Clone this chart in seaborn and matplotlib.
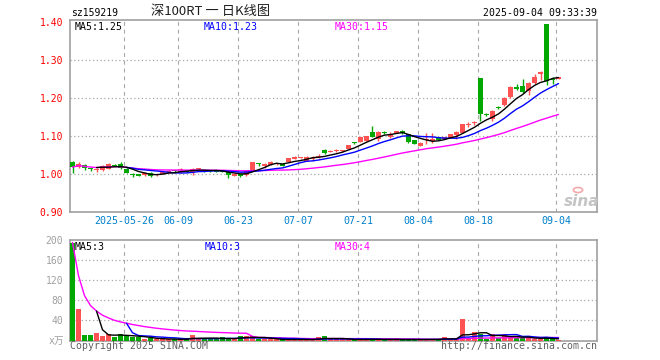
import numpy as np
import pandas as pd
import matplotlib
matplotlib.use("Agg")
import matplotlib.pyplot as plt
import seaborn as sns

# daily candles, 2025-05-13 .. 2025-09-04
opens = [1.032, 1.018, 1.024, 1.014, 1.010, 1.010, 1.013, 1.023, 1.026, 1.014,
         0.999, 1.000, 0.998, 1.003, 0.997, 1.000, 1.005, 1.009, 1.010, 1.008,
         1.005, 1.013, 1.008, 1.008, 1.007, 1.007, 1.004, 0.996, 0.999, 0.997,
         1.010, 1.026, 1.022, 1.024, 1.026, 1.026, 1.032, 1.040, 1.041, 1.034,
         1.040, 1.045, 1.063, 1.058, 1.060, 1.061, 1.066, 1.083, 1.084, 1.087,
         1.110, 1.092, 1.110, 1.097, 1.108, 1.111, 1.105, 1.089, 1.074, 1.090,
         1.088, 1.096, 1.092, 1.095, 1.103, 1.108, 1.128, 1.135, 1.253, 1.157,
         1.145, 1.176, 1.182, 1.203, 1.228, 1.232, 1.218, 1.240, 1.262, 1.395,
         1.248, 1.251]
highs = [1.034, 1.032, 1.027, 1.017, 1.015, 1.024, 1.030, 1.026, 1.031, 1.016,
         1.002, 1.001, 1.005, 1.005, 1.000, 1.006, 1.011, 1.010, 1.016, 1.010,
         1.016, 1.015, 1.010, 1.010, 1.009, 1.010, 1.006, 0.999, 1.001, 1.010,
         1.032, 1.030, 1.030, 1.033, 1.030, 1.028, 1.042, 1.046, 1.043, 1.046,
         1.046, 1.052, 1.066, 1.062, 1.065, 1.064, 1.077, 1.085, 1.098, 1.100,
         1.125, 1.112, 1.112, 1.110, 1.114, 1.116, 1.106, 1.090, 1.083, 1.108,
         1.108, 1.098, 1.098, 1.106, 1.113, 1.132, 1.136, 1.140, 1.253, 1.160,
         1.167, 1.180, 1.202, 1.232, 1.236, 1.250, 1.241, 1.262, 1.270, 1.395,
         1.256, 1.254]
lows = [1.003, 1.016, 1.011, 1.009, 1.004, 1.009, 1.012, 1.020, 1.012, 1.002,
        0.993, 0.994, 0.995, 0.991, 0.995, 0.999, 1.003, 1.006, 1.003, 1.004,
        0.998, 1.011, 1.004, 1.005, 1.004, 1.004, 0.990, 0.994, 0.992, 0.996,
        1.009, 1.020, 1.016, 1.023, 1.024, 1.020, 1.031, 1.039, 1.039, 1.033,
        1.034, 1.041, 1.052, 1.057, 1.057, 1.059, 1.065, 1.080, 1.083, 1.086,
        1.096, 1.088, 1.106, 1.094, 1.107, 1.106, 1.082, 1.079, 1.073, 1.078,
        1.082, 1.089, 1.091, 1.094, 1.093, 1.107, 1.124, 1.130, 1.139, 1.152,
        1.140, 1.172, 1.178, 1.201, 1.220, 1.214, 1.208, 1.237, 1.248, 1.234,
        1.236, 1.250]
closes = [1.018, 1.026, 1.016, 1.013, 1.012, 1.022, 1.026, 1.022, 1.015, 1.003,
          0.998, 0.995, 1.003, 0.996, 0.999, 1.005, 1.009, 1.007, 1.011, 1.005,
          1.013, 1.014, 1.007, 1.007, 1.006, 1.006, 0.997, 0.997, 0.995, 1.008,
          1.031, 1.025, 1.026, 1.031, 1.028, 1.021, 1.041, 1.044, 1.042, 1.045,
          1.042, 1.047, 1.055, 1.060, 1.062, 1.063, 1.076, 1.082, 1.097, 1.099,
          1.097, 1.110, 1.108, 1.105, 1.113, 1.109, 1.084, 1.080, 1.082, 1.092,
          1.092, 1.090, 1.096, 1.105, 1.110, 1.131, 1.131, 1.137, 1.158, 1.155,
          1.166, 1.174, 1.200, 1.229, 1.224, 1.216, 1.240, 1.255, 1.269, 1.245,
          1.247, 1.253]
# volume in 万
volumes = [195, 63, 10, 10, 15, 9, 12, 7, 12, 11,
           6, 7, 2, 5, 2, 3, 3, 2, 2, 3,
           10, 5, 3, 3, 3, 6, 5, 2, 8, 8,
           9, 3, 2, 2, 2, 2, 2, 2, 2, 2,
           2, 6, 8, 2, 2, 2, 2, 2, 2, 2,
           3, 2, 2, 2, 2, 2, 2, 2, 2, 2,
           3, 2, 7, 2, 3, 42, 3, 16, 13, 3,
           13, 5, 12, 6, 5, 5, 6, 3, 3, 6,
           3, 1]

tick_idx = [9, 18, 28, 38, 48, 58, 68, 81]
tick_labels = ["2025-05-26", "06-09", "06-23", "07-07", "07-21", "08-04", "08-18", "09-04"]
price_ticks = [0.90, 1.00, 1.10, 1.20, 1.30, 1.40]
vol_ticks = [40, 80, 120, 160, 200]

df = pd.DataFrame({"open": opens, "high": highs, "low": lows, "close": closes, "vol": volumes})
df["x"] = np.arange(len(df))
df["ma5"] = df["close"].rolling(5).mean()
df["ma10"] = df["close"].rolling(10).mean()
df["ma30"] = df["close"].rolling(30, min_periods=1).mean()
df["vma5"] = df["vol"].rolling(5).mean()
df["vma10"] = df["vol"].rolling(10).mean()
df["vma30"] = df["vol"].rolling(30, min_periods=1).mean()

RED = "#FF5252"
GREEN = "#00A800"
GRID = "#A8A8A8"
up = df["close"] >= df["open"]
colors = np.where(up, RED, GREEN)

sns.set_style("white")
plt.rcParams["font.family"] = ["DejaVu Sans Mono", "Noto Sans CJK SC"]

W, H = 660, 360
fig = plt.figure(figsize=(6.6, 3.6), dpi=100)
ax1 = fig.add_axes([70 / W, 148 / H, 527 / W, 192 / H])
ax2 = fig.add_axes([70 / W, 19.5 / H, 527 / W, 100.5 / H])

off = 2.5 / 6
for ax in (ax1, ax2):
    ax.set_xlim(-off, (597 - 72.5) / 6)
    for k in tick_idx:
        ax.axvline(k - off, color=GRID, lw=0.8, ls=(0, (3.5, 3.5)), zorder=0)
    for s in ax.spines.values():
        s.set_color("#A0A0A0")
        s.set_linewidth(1.2)

# price panel
for y in price_ticks[1:-1]:
    ax1.axhline(y, color=GRID, lw=0.9, ls=(0, (1, 2)), zorder=0)
ax1.vlines(df["x"], df["low"], df["high"], colors=colors, lw=1, zorder=2)
body = np.maximum((df["close"] - df["open"]).abs(), 0.0028)
ax1.bar(df["x"], body, bottom=np.minimum(df["open"], df["close"]),
        width=0.83, color=colors, lw=0, zorder=3)
for col, c in [("ma30", "#FF00FF"), ("ma10", "#0000FF"), ("ma5", "#000000")]:
    sns.lineplot(x=df["x"], y=df[col], ax=ax1, color=c, lw=1, estimator=None, zorder=4)
ax1.set_ylim(0.90, 1.405)
ax1.set_yticks(price_ticks)
ax1.set_yticklabels([f"{v:.2f}" for v in price_ticks])
ax1.set_xticks([k - off for k in tick_idx])
ax1.set_xticklabels(tick_labels)
ax1.tick_params(axis="y", length=0, pad=5, labelcolor="#FF0000", labelsize=7)
ax1.tick_params(axis="x", length=0, pad=3, labelcolor="#0080CC", labelsize=7.2)
ax1.set_xlabel("")
ax1.set_ylabel("")

# volume panel
for y in vol_ticks[:-1]:
    ax2.axhline(y, color=GRID, lw=0.9, ls=(0, (1, 2)), zorder=0)
ax2.bar(df["x"], df["vol"], width=0.83, color=colors, lw=0, zorder=3)
for col, c in [("vma30", "#FF00FF"), ("vma10", "#0000FF"), ("vma5", "#000000")]:
    sns.lineplot(x=df["x"], y=df[col], ax=ax2, color=c, lw=1, estimator=None, zorder=4)
ax2.set_ylim(0, 200)
ax2.set_yticks(vol_ticks)
ax2.set_xticks([])
ax2.tick_params(axis="y", length=0, pad=5, labelcolor="#A0A0A0", labelsize=7)
ax2.set_xlabel("")
ax2.set_ylabel("")


def ftext(x, y, s, **kw):
    fig.text(x / W, 1 - y / H, s, va="center", **kw)


ftext(71, 13, "sz159219", ha="left", fontsize=7, color="black")
ftext(151, 12, "深100RT 一 日K线图", ha="left", fontsize=9.5, color="#202020",
      family=["Noto Sans CJK SC", "DejaVu Sans"])
ftext(597, 13, "2025-09-04 09:33:39", ha="right", fontsize=7.1, color="black")

ftext(75, 27, "MA5:1.25", ha="left", fontsize=7.1, color="black")
ftext(204, 27, "MA10:1.23", ha="left", fontsize=7.1, color="#0000FF")
ftext(335, 27, "MA30:1.15", ha="left", fontsize=7.1, color="#FF00FF")
ftext(75, 247, "MA5:3", ha="left", fontsize=7.1, color="black")
ftext(205, 247, "MA10:3", ha="left", fontsize=7.1, color="#0000FF")
ftext(335, 247, "MA30:4", ha="left", fontsize=7.1, color="#FF00FF")

ftext(64, 341, "x万", ha="right", fontsize=7, color="#A0A0A0")
ftext(70, 346, "Copyright 2025 SINA.COM", ha="left", fontsize=7.1, color="#606060")
ftext(597, 346, "http://finance.sina.com.cn", ha="right", fontsize=7.1, color="#606060")

# sina watermark
ftext(564, 201, "sina", ha="left", fontsize=11, color="#C4C4C4",
      style="italic", weight="bold", family="DejaVu Sans")
fig.patches.append(plt.Circle((578 / W, 1 - 190 / H), 0.007, transform=fig.transFigure,
                              fill=False, ec="#F4A8A8", lw=1.2))

fig.savefig("out.png", dpi=100)
